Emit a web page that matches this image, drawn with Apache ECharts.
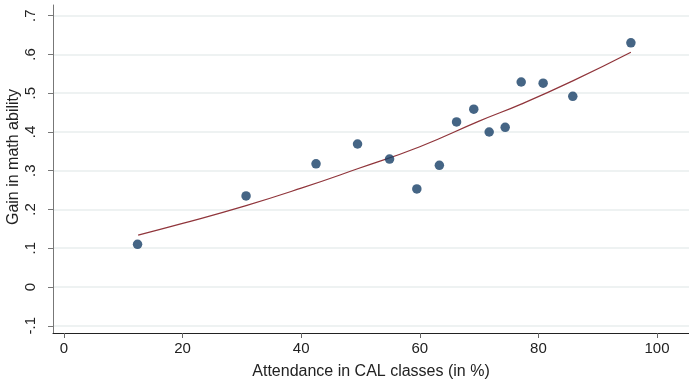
<!DOCTYPE html>
<html>
<head>
<meta charset="utf-8">
<script src="https://cdn.jsdelivr.net/npm/echarts@6/dist/echarts.min.js"></script>
<style>html,body{margin:0;padding:0;background:#fff;}#c{width:689px;height:381px;}</style>
</head>
<body>
<div id="c"></div>
<script>
// Observed points
const attendance = [12.4, 30.7, 42.5, 49.5, 54.9, 59.5, 63.3, 66.2, 69.1, 71.7, 74.4, 77.1, 80.8, 85.8, 95.6];
const gain = [0.110, 0.235, 0.318, 0.369, 0.330, 0.253, 0.314, 0.426, 0.459, 0.400, 0.412, 0.529, 0.526, 0.492, 0.630];
// Fitted curve
const fitX = [12.5, 20, 30.7, 40, 49.5, 60, 70, 77.1, 85.8, 95.6];
const fitY = [0.134, 0.164, 0.210, 0.255, 0.305, 0.362, 0.428, 0.472, 0.532, 0.606];
// Tick labels
const xTicks = [0, 20, 40, 60, 80, 100];
const yTicks = [-0.1, 0, 0.1, 0.2, 0.3, 0.4, 0.5, 0.6, 0.7];

const fmtY = v => {
  const r = Math.round(v * 10) / 10;
  if (r === 0) return '0';
  return r.toFixed(1).replace('0.', '.');
};
const font = '"Liberation Sans", Arial, sans-serif';
const chart = echarts.init(document.getElementById('c'), null, {renderer: 'canvas'});
chart.setOption({
  animation: false,
  backgroundColor: '#ffffff',
  grid: {left: 53, right: 0, top: 5, bottom: 48, containLabel: false, outerBoundsMode: 'none'},
  xAxis: {
    type: 'value', min: -1.86, max: 105.4,
    name: 'Attendance in CAL classes (in %)', nameLocation: 'middle', nameGap: 31,
    nameTextStyle: {fontFamily: font, fontSize: 16, color: '#222'},
    axisLine: {show: true, onZero: false, lineStyle: {color: '#222', width: 1}},
    axisTick: {show: true, length: 5, lineStyle: {color: '#666'}, customValues: xTicks},
    axisLabel: {fontFamily: font, fontSize: 15, color: '#222', margin: 8, customValues: xTicks,
      formatter: v => String(Math.round(v))},
    splitLine: {show: false}
  },
  yAxis: {
    type: 'value', min: -0.1187, max: 0.7277,
    name: 'Gain in math ability', nameLocation: 'middle', nameGap: 31, nameRotate: 90,
    nameMoveOverlap: false,
    nameTextStyle: {fontFamily: font, fontSize: 16, color: '#222', padding: [0, 0, 0, 24]},
    axisLine: {show: true, onZero: false, lineStyle: {color: '#777', width: 1}},
    axisTick: {show: true, length: 5, lineStyle: {color: '#777'}, customValues: yTicks},
    axisLabel: {fontFamily: font, fontSize: 15, color: '#222', margin: 15, rotate: 90, customValues: yTicks,
      formatter: fmtY},
    splitLine: {show: true, lineStyle: {color: '#e9eeee', width: 1.5}}
  },
  series: [
    {
      type: 'line', data: fitX.map((x, i) => [x, fitY[i]]), smooth: true, showSymbol: false,
      lineStyle: {color: '#90353b', width: 1.2}, z: 2
    },
    {
      type: 'scatter', data: attendance.map((x, i) => [x, gain[i]]), symbolSize: 9.5,
      itemStyle: {color: '#173f66'}, z: 3
    }
  ]
});
</script>
</body>
</html>
